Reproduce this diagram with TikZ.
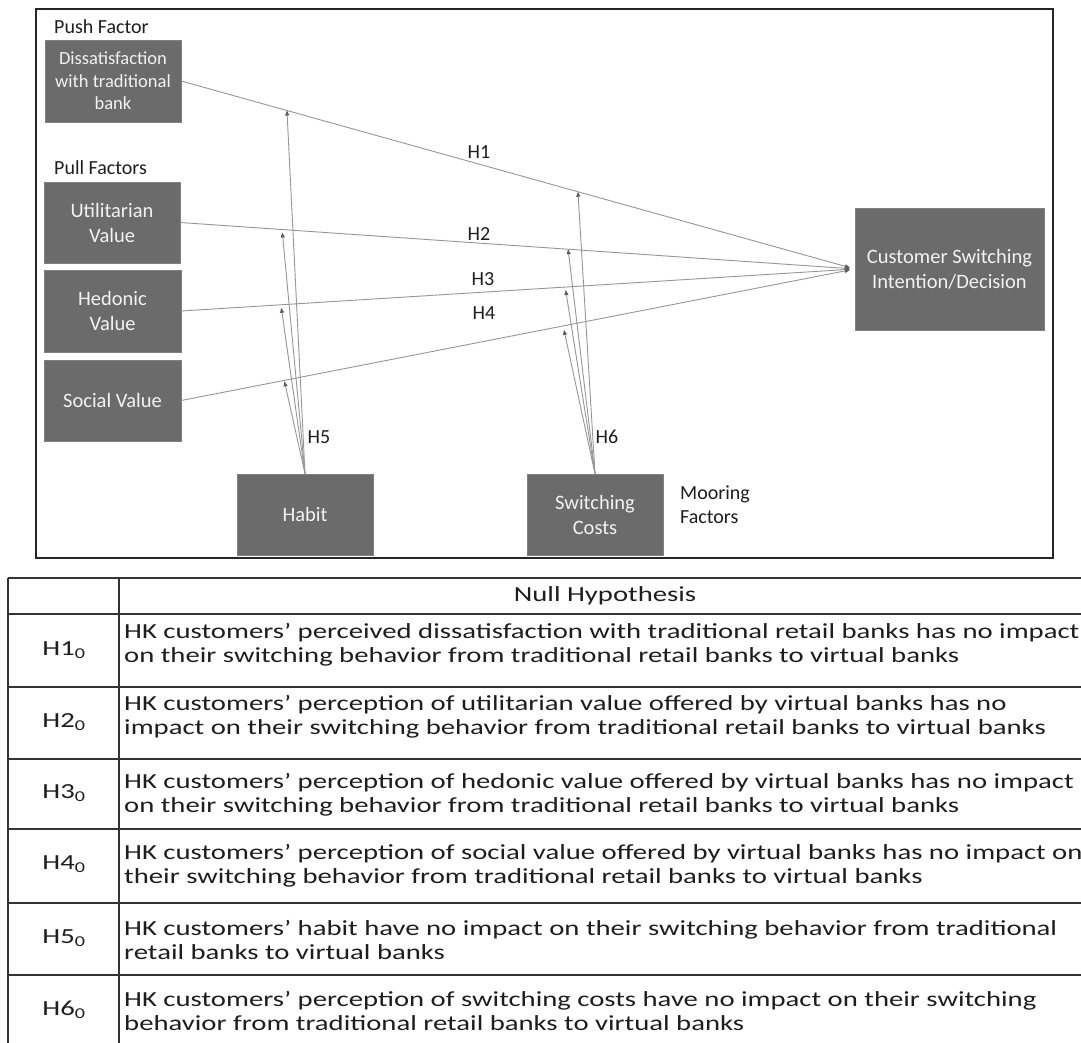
\documentclass[tikz,border=0pt]{standalone}
\usepackage{fontspec}
\setmainfont{Carlito}
\newfontfamily\tabfont[FakeStretch=1.335]{Carlito}
\usetikzlibrary{arrows.meta}
\definecolor{boxc}{RGB}{107,107,107}
\definecolor{boxtxt}{RGB}{242,242,242}
\definecolor{linec}{RGB}{150,150,150}
\definecolor{tipc}{RGB}{95,95,95}
\definecolor{txtc}{RGB}{30,30,30}
\tikzset{
  factor/.style={rectangle, fill=boxc, draw=boxc!85!white, text=boxtxt, align=center, inner sep=0pt, font=\fontsize{20.5}{25}\selectfont},
  conn/.style={draw=linec, line width=0.9pt, -{Triangle[length=5pt,width=4pt,color=tipc]}},
  lbl/.style={text=txtc, font=\fontsize{20}{24}\selectfont, inner sep=0pt},
  tline/.style={draw=black!80, line width=1.3pt},
  cell/.style={text=txtc, font=\tabfont\fontsize{21.5}{24}\selectfont, align=left, inner sep=0pt, anchor=west}
}
\begin{document}
\begin{tikzpicture}[x=1pt,y=-1pt]
\useasboundingbox (0,0) rectangle (1081,1042);
\clip (0,0) rectangle (1081,1042);
\fill[white] (0,0) rectangle (1081,1042);
% frame
\draw[line width=1.5pt, black!85] (36,9) rectangle (1053,558);
% group labels
\node[lbl, anchor=west] (push) at (54,27) {Push Factor};
\node[lbl, anchor=west] (pull) at (54,168) {Pull Factors};
\node[lbl, anchor=west, align=left] (moor) at (680,505) {Mooring\\Factors};
% boxes
\node[factor, minimum width=136pt, minimum height=82pt, font=\fontsize{18.5}{22.5}\selectfont] (dis) at (113,81) {Dissatisfaction\\with traditional\\bank};
\node[factor, minimum width=136pt, minimum height=81pt] (util) at (112,222.5) {Utilitarian\\Value};
\node[factor, minimum width=137pt, minimum height=82pt] (hed) at (112.5,311) {Hedonic\\Value};
\node[factor, minimum width=137pt, minimum height=81pt] (soc) at (112.5,400.5) {Social Value};
\node[factor, minimum width=136pt, minimum height=81pt] (habit) at (305,514.5) {Habit};
\node[factor, minimum width=136pt, minimum height=81pt] (sc) at (595,514.5) {Switching\\Costs};
\node[factor, minimum width=189pt, minimum height=122pt] (cs) at (949.5,269) {Customer Switching\\Intention/Decision};
% main paths
\draw[conn, shorten >=5pt] (dis.east) -- coordinate[pos=0.157] (d5) coordinate[pos=0.589] (d6) (cs.west);
\draw[conn, shorten >=5pt] (util.east) -- coordinate[pos=0.151] (u5) coordinate[pos=0.575] (u6) (cs.west);
\draw[conn, shorten >=5pt] (hed.east) -- coordinate[pos=0.148] (e5) coordinate[pos=0.570] (e6) (cs.west);
\draw[conn, shorten >=5pt] (soc.east) -- coordinate[pos=0.153] (s5) coordinate[pos=0.567] (s6) (cs.west);
% moderators
\draw[conn] (habit.north) -- (d5);
\draw[conn, shorten >=3pt] (habit.north) -- (u5);
\draw[conn, shorten >=3pt] (habit.north) -- (e5);
\draw[conn, shorten >=1pt] (habit.north) -- (s5);
\draw[conn] (sc.north) -- (d6);
\draw[conn] (sc.north) -- (u6);
\draw[conn, shorten >=3pt] (sc.north) -- (e6);
\draw[conn, shorten >=4pt] (sc.north) -- (s6);
% path labels
\node[lbl] (h1) at (479,152) {H1};
\node[lbl] (h2) at (479,234) {H2};
\node[lbl] (h3) at (483,279) {H3};
\node[lbl] (h4) at (484,313) {H4};
\node[lbl] (h5) at (319,437) {H5};
\node[lbl] (h6) at (607,437) {H6};
% table
\foreach \yy in {578,614,687,759,829,903,975} \draw[tline] (8,\yy) -- (1090,\yy);
\draw[tline] (8,578) -- (8,1050);
\draw[tline] (119,578) -- (119,1050);
\node[cell, anchor=center] (hdr) at (605,596) {Null Hypothesis};
\node[cell, anchor=center] (l1) at (64,650) {H1\textsubscript{0}};
\node[cell, anchor=center] (l2) at (64,722) {H2\textsubscript{0}};
\node[cell, anchor=center] (l3) at (64,793) {H3\textsubscript{0}};
\node[cell, anchor=center] (l4) at (64,864) {H4\textsubscript{0}};
\node[cell, anchor=center] (l5) at (64,938) {H5\textsubscript{0}};
\node[cell, anchor=center] (l6) at (64,1010) {H6\textsubscript{0}};
\node[cell] (t1) at (124,645) {HK customers’ perceived dissatisfaction with traditional retail banks has no impact\\on their switching behavior from traditional retail banks to virtual banks};
\node[cell] (t2) at (124,717) {HK customers’ perception of utilitarian value offered by virtual banks has no\\impact on their switching behavior from traditional retail banks to virtual banks};
\node[cell] (t3) at (124,795) {HK customers’ perception of hedonic value offered by virtual banks has no impact\\on their switching behavior from traditional retail banks to virtual banks};
\node[cell] (t4) at (124,866) {HK customers’ perception of social value offered by virtual banks has no impact on\\their switching behavior from traditional retail banks to virtual banks};
\node[cell] (t5) at (124,940) {HK customers’ habit have no impact on their switching behavior from traditional\\retail banks to virtual banks};
\node[cell] (t6) at (124,1011) {HK customers’ perception of switching costs have no impact on their switching\\behavior from traditional retail banks to virtual banks};
\end{tikzpicture}
\end{document}
